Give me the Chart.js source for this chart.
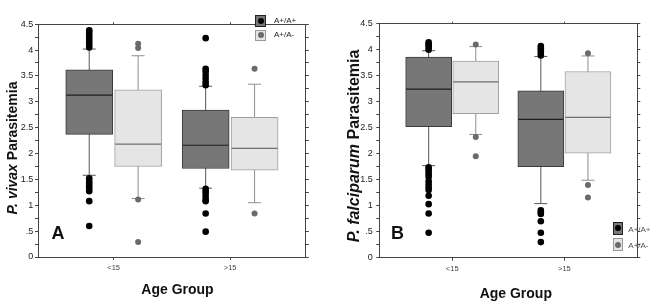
<!DOCTYPE html>
<html>
<head>
<meta charset="utf-8">
<script src="https://cdn.jsdelivr.net/npm/chart.js@4.4.1/dist/chart.umd.min.js"></script>
<style>
html,body{margin:0;padding:0;background:#fff;}
body{width:661px;height:304px;position:relative;overflow:hidden;font-family:"Liberation Sans",Arial,sans-serif;}
.panel{position:absolute;top:0;height:304px;}
.panel canvas{position:absolute;left:0;top:0;}
.t{position:absolute;white-space:nowrap;line-height:1;font-weight:bold;color:#111;}
.ytitle{transform-origin:center center;text-align:center;}
.lg{position:absolute;box-sizing:border-box;}
.lg .dot{position:absolute;left:50%;top:50%;width:6px;height:6px;margin:-3px 0 0 -3px;border-radius:50%;}
.lgt{position:absolute;white-space:nowrap;line-height:1;font-size:8px;}
</style>
</head>
<body>
<div class="panel" id="pA" style="left:0;width:330px;"><canvas id="cA" width="330" height="304"></canvas></div>
<div class="panel" id="pB" style="left:330px;width:331px;"><canvas id="cB" width="331" height="304"></canvas></div>
<script>
// ---------------- DATA ----------------
const categories = ['<15', '>15'];
const seriesNames = ['A+/A+', 'A+/A-'];
const yTickLabels = ['0', '.5', '1', '1.5', '2', '2.5', '3', '3.5', '4', '4.5'];

// Panel A: P. vivax  (rows = series [A+/A+, A+/A-], cols = categories)
const vivaxLowWhisker = [[1.58, 1.33], [1.13, 1.05]];
const vivaxQ1         = [[2.37, 1.71], [1.75, 1.68]];
const vivaxMedian     = [[3.13, 2.16], [2.18, 2.10]];
const vivaxQ3         = [[3.62, 2.84], [3.23, 2.70]];
const vivaxHighWhisker= [[4.02, 3.30], [3.89, 3.34]];
const vivaxOutliers = [
  [[4.05, 4.10, 4.15, 4.20, 4.25, 4.30, 4.35, 4.38, 1.52, 1.47, 1.42, 1.37, 1.32, 1.27, 1.08, 0.60],
   [4.23, 3.64, 3.59, 3.52, 3.45, 3.38, 3.32, 1.32, 1.27, 1.22, 1.16, 1.10, 1.08, 0.84, 0.49]],
  [[4.12, 4.04, 1.11, 0.29],
   [3.64, 0.84]]
];

// Panel B: P. falciparum
const falcLowWhisker = [[1.77, 1.04], [2.37, 1.49]];
const falcQ1         = [[2.52, 1.75], [2.77, 2.01]];
const falcMedian     = [[3.24, 2.66], [3.38, 2.70]];
const falcQ3         = [[3.86, 3.21], [3.78, 3.58]];
const falcHighWhisker= [[3.98, 3.87], [4.06, 3.88]];
const falcOutliers = [
  [[4.00, 4.04, 4.08, 4.11, 4.14, 1.74, 1.70, 1.65, 1.60, 1.55, 1.47, 1.41, 1.35, 1.30, 1.19, 1.03, 0.85, 0.48],
   [3.89, 3.94, 3.99, 4.03, 4.07, 0.91, 0.87, 0.84, 0.70, 0.48, 0.30]],
  [[4.10, 2.32, 1.95],
   [3.93, 1.40, 1.16]]
];

// ---------------- STYLE ----------------
const FONT = '"Liberation Sans", Arial, sans-serif';
const AXIS = '#444';
const X_MIN = 0.35, X_MAX = 2.65, BOX_OFFSET = 0.21;
const STYLE = [
  {fill:'#777777', border:'#3a3a3a', whisker:'#555555', median:'#1c1c1c', dot:'#000000', dotR:3.3, sqBorder:'#222'},
  {fill:'#e5e5e5', border:'#a0a0a0', whisker:'#8e8e8e', median:'#6e6e6e', dot:'#6a6a6a', dotR:3.0, sqBorder:'#999'}
];

function boxX(ci, si){ return ci + 1 + (si === 0 ? -BOX_OFFSET : BOX_OFFSET); }

function buildDatasets(st, barW){
  const ds = [];
  seriesNames.forEach((name, si) => {
    const s = STYLE[si];
    const wData = [], capData = [], boxData = [], medData = [], outData = [];
    categories.forEach((c, ci) => {
      const x = boxX(ci, si);
      wData.push({x, y: st.lo[si][ci]}, {x, y: st.hi[si][ci]}, {x, y: null});
      capData.push({x, y: st.lo[si][ci]}, {x, y: st.hi[si][ci]});
      boxData.push({x, y: [st.q1[si][ci], st.q3[si][ci]]});
      medData.push({x, y: st.med[si][ci]});
      st.out[si][ci].forEach(v => outData.push({x, y: v}));
    });
    ds.push({type:'line', label:name+' whisker', data:wData, borderColor:s.whisker, borderWidth:1,
      pointRadius:0, spanGaps:false, order:5});
    ds.push({type:'scatter', label:name+' cap', data:capData, pointStyle:'line', pointRadius:6.5,
      pointBorderColor:s.whisker, pointBorderWidth:1, order:4});
    ds.push({type:'bar', label:name, data:boxData, backgroundColor:s.fill, borderColor:s.border,
      borderWidth:1, borderSkipped:false, grouped:false, barThickness:barW, order:3});
    ds.push({type:'scatter', label:name+' median', data:medData, pointStyle:'line', pointRadius:barW/2 - 0.5,
      pointBorderColor:s.median, pointBorderWidth:1.2, order:2});
    ds.push({type:'scatter', label:name+' outliers', data:outData, pointRadius:s.dotR,
      pointBackgroundColor:s.dot, pointBorderWidth:0, order:1});
  });
  return ds;
}

function yLabel(v){
  const k = Math.round(v * 2);
  if (Math.abs(v * 2 - k) < 1e-6) return yTickLabels[k];
  return '';
}

function scalesFor(g){
  const catTicks = s => { s.ticks = categories.map((c, i) => ({value: i + 1})); };
  const yTicks = s => { const t = []; for (let k = 0; k <= 18; k++) t.push({value: k * 0.25}); s.ticks = t; };
  const gridBase = {drawOnChartArea:false, offset:false, tickLength:3, color:AXIS, tickColor:AXIS, lineWidth:1};
  return {
    x: {type:'linear', position:'bottom', min:X_MIN, max:X_MAX, offset:false, afterBuildTicks:catTicks,
      ticks:{callback:v => categories[Math.round(v) - 1], font:{family:FONT, size:7.5}, color:'#444',
        padding:3.5, autoSkip:false, maxRotation:0},
      grid:gridBase, border:{color:AXIS, width:1},
      afterFit:s => { s.height = g.bottom; }},
    xTop: {type:'linear', position:'top', min:X_MIN, max:X_MAX, offset:false, afterBuildTicks:catTicks,
      ticks:{display:false}, grid:Object.assign({}, gridBase, {tickLength:2}), border:{color:AXIS, width:1},
      afterFit:s => { s.height = g.top; }},
    y: {type:'linear', position:'left', min:0, max:4.5, afterBuildTicks:yTicks,
      ticks:{callback:yLabel, autoSkip:false, font:{family:FONT, size:9, lineHeight:1}, color:'#222', padding:g.ypad},
      grid:gridBase, border:{color:AXIS, width:1},
      afterFit:s => { s.width = g.left; }},
    yRight: {type:'linear', position:'right', min:0, max:4.5, afterBuildTicks:yTicks,
      ticks:{display:false}, grid:gridBase, border:{color:AXIS, width:1},
      afterFit:s => { s.width = g.right; }}
  };
}

function makeChart(id, st, g){
  return new Chart(document.getElementById(id), {
    type:'bar',
    data:{datasets: buildDatasets(st, g.barW)},
    options:{
      responsive:false, animation:false, devicePixelRatio:1, events:[],
      layout:{padding:0},
      plugins:{legend:{display:false}, tooltip:{enabled:false}},
      scales: scalesFor(g)
    }
  });
}

makeChart('cA', {lo:vivaxLowWhisker, q1:vivaxQ1, med:vivaxMedian, q3:vivaxQ3, hi:vivaxHighWhisker, out:vivaxOutliers},
  {left:38, right:14, top:5.5, bottom:47, ypad:1.7, barW:47});
makeChart('cB', {lo:falcLowWhisker, q1:falcQ1, med:falcMedian, q3:falcQ3, hi:falcHighWhisker, out:falcOutliers},
  {left:49.3, right:6, top:5, bottom:46.3, ypad:3.6, barW:46});

// ---------------- TEXT OVERLAYS ----------------
function addText(panel, html, cls, style){
  const d = document.createElement('div');
  d.className = 't ' + (cls || '');
  d.innerHTML = html;
  Object.assign(d.style, style);
  document.getElementById(panel).appendChild(d);
  return d;
}
// y titles (rotated), centred on given point
function yTitle(panel, html, cx, cy, size){
  const w = 260;
  addText(panel, html, 'ytitle', {fontSize:size+'px', width:w+'px', height:size+'px',
    left:(cx - w/2)+'px', top:(cy - size/2)+'px', transform:'rotate(-90deg)'});
}
yTitle('pA', '<i>P. vivax</i> Parasitemia', 12.2, 148, 14);
yTitle('pB', '<i>P. falciparum</i> Parasitemia', 24.3, 145.5, 16);

function xTitle(panel, cx, baseline, size){
  addText(panel, 'Age Group', '', {fontSize:size+'px', left:cx+'px', top:(baseline - 0.8465*size)+'px',
    transform:'translateX(-50%)'});
}
xTitle('pA', 177.5, 293.5, 14);
xTitle('pB', 185.8, 298, 14);

addText('pA', 'A', '', {fontSize:'18px', left:'51.5px', top:(239.4 - 0.8465*18)+'px'});
addText('pB', 'B', '', {fontSize:'18px', left:'61px', top:(238.9 - 0.8465*18)+'px'});

// legends
function legend(panel, x, ys, w, h, tx, tys, color){
  seriesNames.forEach((name, si) => {
    const s = STYLE[si];
    const sq = document.createElement('div');
    sq.className = 'lg';
    Object.assign(sq.style, {left:x+'px', top:ys[si]+'px', width:w+'px', height:h+'px',
      background:s.fill, border:'1px solid '+s.sqBorder});
    const dot = document.createElement('div');
    dot.className = 'dot';
    dot.style.background = s.dot;
    sq.appendChild(dot);
    document.getElementById(panel).appendChild(sq);
    const t = document.createElement('div');
    t.className = 'lgt';
    t.textContent = name;
    Object.assign(t.style, {left:tx+'px', top:(tys[si] - 4)+'px', color:color});
    document.getElementById(panel).appendChild(t);
  });
}
legend('pA', 255, [15, 29.5], 11, 11.5, 274, [20.8, 35.3], '#222');
legend('pB', 283.3, [221.7, 238.3], 10, 13, 298.3, [230, 245.7], '#555');
</script>
</body>
</html>
